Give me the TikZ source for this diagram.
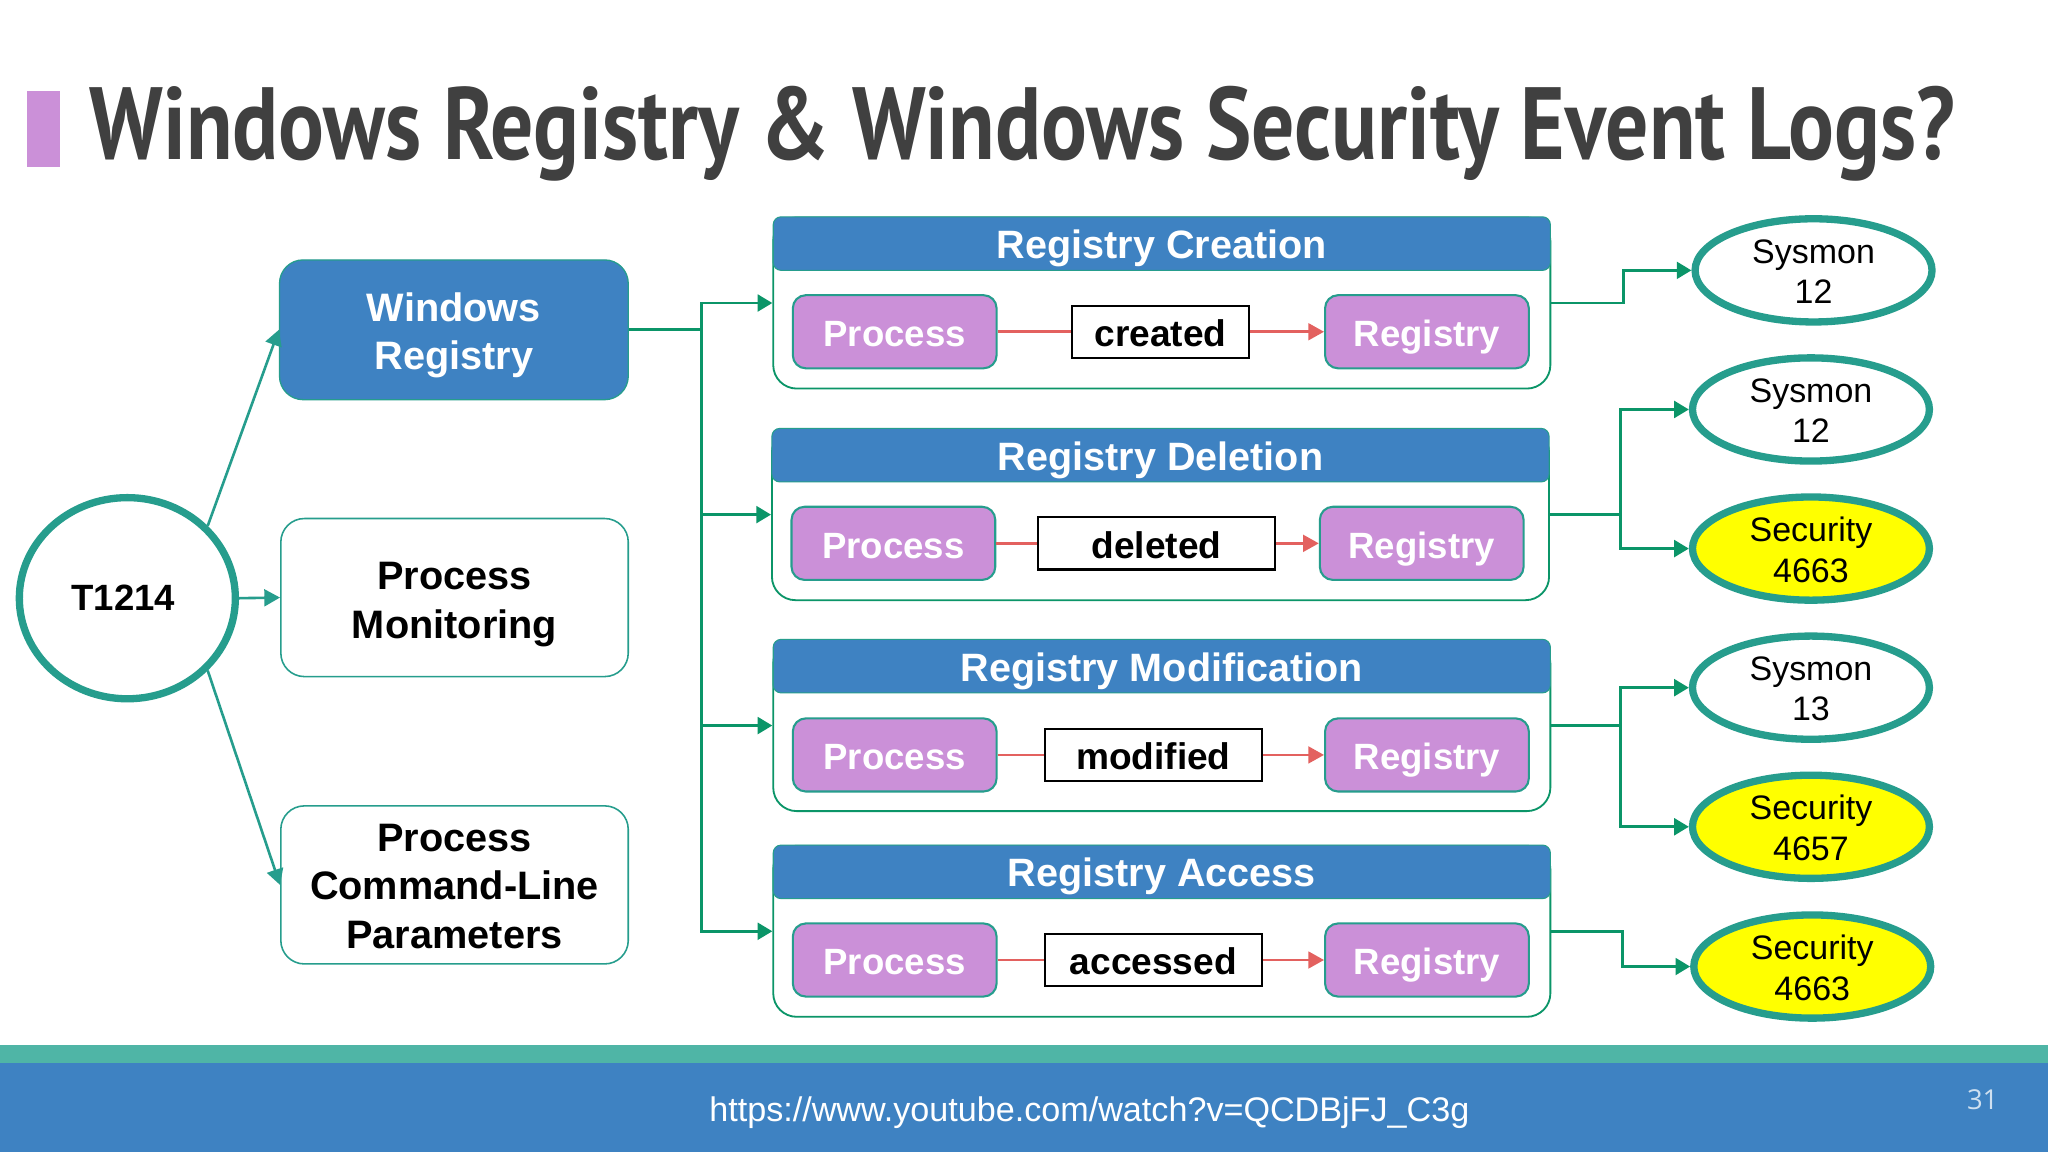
\documentclass[tikz,border=0pt]{standalone}
\usepackage{fontspec}
\setmainfont{Liberation Sans}
\newfontfamily\titlefont[FakeStretch=0.833]{PT Sans}
\newfontfamily\lightfont{Open Sans}
\usetikzlibrary{arrows.meta,shapes.geometric}
\definecolor{blu}{HTML}{3E82C2}
\definecolor{tealc}{HTML}{269D8D}
\definecolor{greenc}{HTML}{0B9568}
\definecolor{purp}{HTML}{CB90D8}
\definecolor{pinkc}{HTML}{E3615F}
\definecolor{band}{HTML}{4FB5A6}
\definecolor{ink}{HTML}{404040}
\definecolor{yel}{HTML}{FFFF00}
\newcommand\dn[2]{\raisebox{-#1}[\height][\depth]{#2}}
\newcommand\evl[2]{\dn{.5pt}{#1}\\\dn{.5pt}{#2}}
\tikzset{
  x=0.5pt,y=-0.5pt,
  bluebox/.style={draw=tealc,fill=blu,line width=0.5pt,rounded corners=9pt,text=white,align=center,font=\fontsize{15.2}{18.5}\selectfont\bfseries,inner sep=0pt},
  whitebox/.style={draw=tealc,fill=white,line width=0.6pt,rounded corners=9pt,text=black,align=center,font=\fontsize{15.2}{18.5}\selectfont\bfseries,inner sep=0pt,minimum width=133pt,minimum height=60.5pt},
  grp/.style={draw=greenc,fill=white,line width=0.7pt,rounded corners=9pt,minimum width=297.5pt,minimum height=65.5pt,inner sep=0pt},
  hdr/.style={draw=tealc,fill=blu,line width=0.4pt,rounded corners=3pt,text=white,font=\fontsize{15.15}{18}\selectfont\bfseries,minimum width=297.5pt,minimum height=20.5pt,inner sep=0pt,text height=13.4pt,text depth=2pt},
  purpbox/.style={draw=tealc,fill=purp,line width=0.8pt,rounded corners=5pt,text=white,font=\fontsize{14}{17}\selectfont\bfseries,minimum width=78pt,minimum height=28pt,inner sep=0pt,text height=13.4pt,text depth=2pt},
  labbox/.style={draw=black,fill=white,line width=0.8pt,text=black,font=\fontsize{14.2}{17}\selectfont\bfseries,minimum height=20pt,inner sep=0pt,text height=13.4pt,text depth=2pt},
  evt/.style={ellipse,draw=tealc,fill=white,line width=2.8pt,minimum width=90.7pt,minimum height=39.5pt,inner sep=0pt,align=center,text=black,font=\fontsize{13}{15.5}\selectfont},
  sec/.style={evt,fill=yel},
  conn/.style={draw=greenc,line width=1.1pt,-{Triangle[length=5.6pt,width=6.4pt]}},
  plainconn/.style={draw=greenc,line width=1.1pt},
  thinconn/.style={draw=tealc,line width=1pt,-{Triangle[length=6pt,width=6.4pt]}},
  pinkline/.style={draw=pinkc,line width=1pt},
  pinkarrow/.style={pinkline,-{Triangle[length=6pt,width=6.4pt]}},
}
\begin{document}
\begin{tikzpicture}
\useasboundingbox (0,0) rectangle (1568,882);
\fill[white] (0,0) rectangle (1568,882);
% title
\fill[purp] (21,70) rectangle (46,128);
\node[anchor=base west,inner sep=0pt,text=ink,font=\titlefont\fontsize{39.3}{44}\selectfont\bfseries] (title) at (68,122) {Windows Registry \& Windows Security Event Logs?};
% footer
\fill[band] (0,800) rectangle (1568,814);
\fill[blu] (0,814) rectangle (1568,882);
\node[anchor=base,inner sep=0pt,text=white,font=\fontsize{13.07}{16}\selectfont] (url) at (834,859) {https://www.youtube.com/watch?v=QCDBjFJ\_C3g};
\node[anchor=base,inner sep=0pt,text=white!75!blu,font=\lightfont\fontsize{10.5}{12}\selectfont] (num) at (1518,849.5) {31};
% left
\node[ellipse,draw=tealc,fill=white,line width=2.8pt,minimum width=82.7pt,minimum height=77pt,inner sep=0pt,font=\fontsize{14}{17}\selectfont\bfseries] (t) at (97.5,458) {\hspace*{-3pt}T1214};
\node[bluebox,minimum width=133.5pt,minimum height=53.5pt] (wr) at (347.5,252.5) {\dn{2pt}{Windows}\\\dn{2pt}{Registry}};
\node[whitebox] (pm) at (348,457.5) {\dn{2.7pt}{Process}\\\dn{2.7pt}{Monitoring}};
\node[whitebox] (pcl) at (348,677.5) {\dn{.5pt}{Process}\\\dn{.5pt}{Command-Line}\\\dn{.5pt}{Parameters}};
\draw[thinconn] (t.42) -- (wr.west);
\draw[thinconn] (t.east) -- (pm.west);
\draw[thinconn] (t.-42) -- (pcl.west);
% groups
\node[grp] (g1) at (889.5,232) {};
\node[hdr] (h1) at (889.5,186.5) {Registry Creation};
\node[purpbox] (p1) at (685,254) {Process};
\node[labbox,minimum width=67.5pt] (l1) at (888.5,254) {created};
\node[purpbox] (r1) at (1092.5,254) {Registry};
\node[grp] (g2) at (888.5,394) {};
\node[hdr] (h2) at (888.5,348.5) {Registry Deletion};
\node[purpbox] (p2) at (684,416) {Process};
\node[labbox,minimum width=90.5pt] (l2) at (885.5,416) {deleted};
\node[purpbox] (r2) at (1088.5,416) {Registry};
\node[grp] (g3) at (889.5,555.5) {};
\node[hdr] (h3) at (889.5,510) {Registry Modification};
\node[purpbox] (p3) at (685,578) {Process};
\node[labbox,minimum width=83pt] (l3) at (883,578) {modified};
\node[purpbox] (r3) at (1092.5,578) {Registry};
\node[grp] (g4) at (889.5,713) {};
\node[hdr] (h4) at (889.5,667.5) {Registry Access};
\node[purpbox] (p4) at (685,735) {Process};
\node[labbox,minimum width=83pt] (l4) at (883,735) {accessed};
\node[purpbox] (r4) at (1092.5,735) {Registry};
\foreach \i in {1,2,3,4}{
  \draw[pinkline] (p\i.east) -- (l\i.west);
  \draw[pinkarrow] (l\i.east) -- (r\i.west);
}
% events
\node[evt] (e1) at (1388.5,207) {\evl{Sysmon}{12}};
\node[evt] (e2) at (1386.5,313.5) {\evl{Sysmon}{12}};
\node[sec] (e3) at (1386.5,420) {\evl{Security}{4663}};
\node[evt] (e4) at (1386.5,526.5) {\evl{Sysmon}{13}};
\node[sec] (e5) at (1386.5,633) {\evl{Security}{4657}};
\node[sec] (e6) at (1387.5,740) {\evl{Security}{4663}};
% connectors
\coordinate (b) at (537,252.5);
\draw[plainconn] (wr.east) -- (b);
\foreach \i in {1,2,3,4}{\draw[conn] (b) |- (g\i.west);}
\coordinate (j1) at (1243,207);
\draw[conn] (g1.east) -| (j1) -- (e1.west);
\coordinate (j2) at (1241,394);
\draw[conn] (g2.east) -- (j2) |- (e2.west);
\draw[conn] (j2) |- (e3.west);
\coordinate (j3) at (1241,555.5);
\draw[conn] (g3.east) -- (j3) |- (e4.west);
\draw[conn] (j3) |- (e5.west);
\coordinate (j4) at (1242,740);
\draw[conn] (g4.east) -| (j4) -- (e6.west);
\end{tikzpicture}
\end{document}
